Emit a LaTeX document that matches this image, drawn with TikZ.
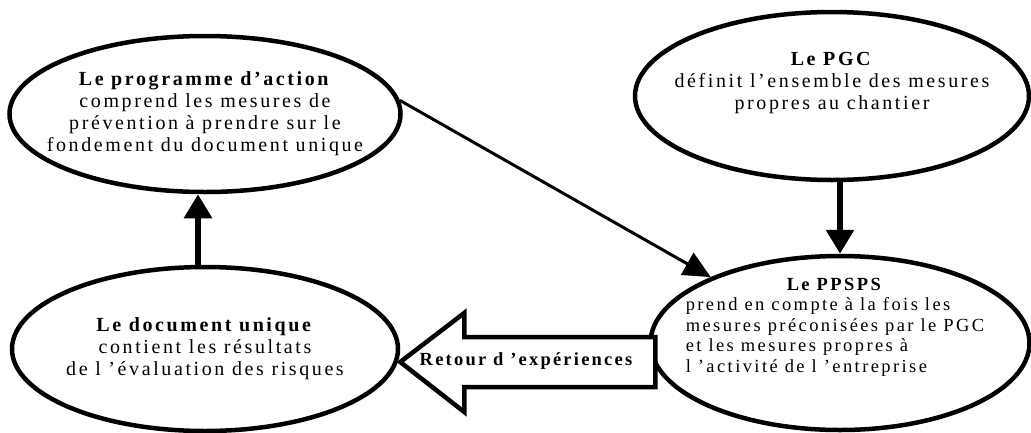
\documentclass[tikz,border=0pt]{standalone}
\usepackage{fontspec}
\setmainfont{Liberation Serif}[LetterSpace=13]
\usetikzlibrary{shapes.geometric,arrows.meta}
\begin{document}
\begin{tikzpicture}[x=1pt,y=-1pt,
  bulle/.style={draw,ellipse,line width=4.5pt,align=center,inner sep=-60pt,
    font=\fontsize{20}{22}\selectfont},
  petit/.style={font=\fontsize{18.5}{20.5}\selectfont\addfontfeature{LetterSpace=13}},
  petitgras/.style={font=\fontsize{18.5}{20.5}\selectfont\addfontfeature{LetterSpace=12}\bfseries},
  fleche/.style={-{Triangle[length=24pt,width=27pt]},line width=6pt},
  retour/.style={draw,line width=4.5pt,fill=white,line join=miter}]
\useasboundingbox (0,0) rectangle (1031,432);
% les quatre bulles
\node[bulle,minimum width=391pt,minimum height=156pt] (prog) at (205,114)
  {\textbf{Le programme d’action}\\comprend les mesures de\\prévention à prendre sur le\\fondement du document unique};
\node[bulle,minimum width=394pt,minimum height=168pt] (pgc) at (832,96)
  {\textbf{Le PGC}\\définit l’ensemble des mesures\\propres au chantier\\[8pt]};
\node[bulle,minimum width=386pt,minimum height=164pt] (doc) at (205,349)
  {\textbf{Le document unique}\\contient les résultats\\de l ’évaluation des risques};
\node[bulle,minimum width=379pt,minimum height=174pt] (ppsps) at (840,343) {};
\node[petit,inner sep=0pt] (ppspstexte) at (835,327)
  {\begin{tabular}{@{}l@{}}\multicolumn{1}{@{}c@{}}{\textbf{Le PPSPS}}\\
   prend en compte à la fois les\\mesures préconisées par le PGC\\
   et les mesures propres à\\l ’activité de l ’entreprise\end{tabular}};
% les liens
\draw[-{Triangle[length=27pt,width=25pt]},line width=3pt] (prog.4) -- (ppsps.153);
\draw[fleche] (pgc.south -| ppsps.north) -- (ppsps.north);
\draw[fleche] ([xshift=-7pt]doc.north) -- ([xshift=-7pt]prog.south);
% la grosse fleche
\coordinate (pointe) at (doc.east |- 0,362);
\draw[retour] (pointe) -- ++(64,-49) -- ++(0,24) -- ++(191,0) -- ++(0,50)
  -- ++(-191,0) -- ++(0,25) -- cycle;
\node[petitgras,inner sep=0pt] (retourtexte) at (526,361) {Retour d ’expériences};
\end{tikzpicture}
\end{document}
